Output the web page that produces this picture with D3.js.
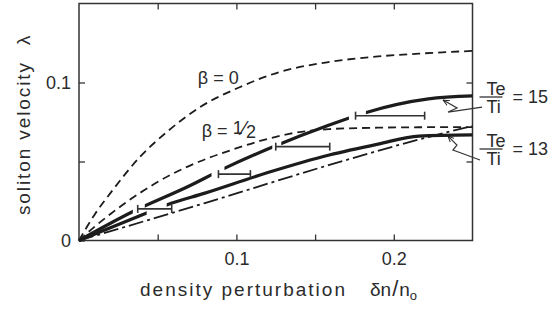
<!DOCTYPE html>
<html>
<head>
<meta charset="utf-8">
<script src="https://cdn.jsdelivr.net/npm/d3@7"></script>
<style>
  body { margin: 0; background: #fff; }
  svg { display: block; }
  text { font-family: "Liberation Sans", Arial, sans-serif; fill: #2b2b2b; }
</style>
</head>
<body>
<svg id="chart" width="557" height="309"></svg>
<script>
// theory curves, beta = 0 and beta = 1/2 (dashed)
const beta0X = [0, 0.01, 0.0215, 0.0388, 0.055, 0.077, 0.102, 0.127, 0.159, 0.19, 0.22, 0.25];
const beta0Y = [0, 0.0165, 0.032, 0.053, 0.068, 0.0845, 0.097, 0.1065, 0.113, 0.1165, 0.1185, 0.120];
const betaHX = [0, 0.01, 0.02, 0.0386, 0.06, 0.0766, 0.0975, 0.115, 0.1335, 0.159, 0.19, 0.22, 0.25];
const betaHY = [0, 0.0088, 0.0168, 0.030, 0.0425, 0.050, 0.0575, 0.063, 0.0675, 0.0705, 0.0714, 0.0717, 0.0718];
// Te/Ti = 15 and 13 (thick solid)
const te15X = [0, 0.034, 0.07, 0.092, 0.123, 0.159, 0.182, 0.222, 0.25];
const te15Y = [0, 0.0182, 0.0345, 0.0455, 0.0592, 0.0731, 0.0809, 0.0896, 0.0915];
const te13X = [0, 0.043, 0.0557, 0.08, 0.12, 0.159, 0.19, 0.216, 0.25];
const te13Y = [0, 0.0174, 0.0225, 0.030, 0.043, 0.0541, 0.061, 0.0661, 0.0668];
// dash-dot line
const ddX = [0, 0.08, 0.159, 0.222, 0.25];
const ddY = [0, 0.0237, 0.0478, 0.0655, 0.0725];
// where the thick curves are broken
const gaps15 = [[0.0342, 0.0418], [0.0842, 0.0924], [0.1228, 0.1285], [0.1715, 0.1823]];
const gaps13 = [[0.043, 0.0557]];
// measured points, horizontal bars
const barY = [0.020, 0.042, 0.0594, 0.079];
const barX0 = [0.0373, 0.0886, 0.125, 0.1757];
const barX1 = [0.0589, 0.1089, 0.1593, 0.2196];
// ticks
const xTicks = [0.05, 0.1, 0.15, 0.2];
const xLabels = ["", "0.1", "", "0.2"];
const yTicks = [0, 0.05, 0.1];
const yLabels = ["0", "", "0.1"];
const ratios = ["15", "13"];

const svg = d3.select("#chart");
const x = d3.scaleLinear().domain([0, 0.25]).range([79, 472.5]);
const y = d3.scaleLinear().domain([0, 0.15]).range([240.5, 3.5]);
const ink = "#1c1c1c";

const zip = (xs, ys) => xs.map((v, i) => [v, ys[i]]);
const line = d3.line().x(d => x(d[0])).y(d => y(d[1])).curve(d3.curveMonotoneX);

// clip paths made from the visible stretches between gaps
function visible(gaps) {
  let out = [], start = 0;
  gaps.forEach(g => { out.push([start, g[0]]); start = g[1]; });
  out.push([start, 0.25]);
  return out;
}
const defs = svg.append("defs");
[["clip15", gaps15], ["clip13", gaps13]].forEach(([id, gaps]) => {
  defs.append("clipPath").attr("id", id)
    .selectAll("rect").data(visible(gaps)).enter()
    .append("rect")
    .attr("x", d => d[0] === 0 ? x(0) - 4 : x(d[0]))
    .attr("width", d => (d[1] === 0.25 ? x(d[1]) + 4 : x(d[1])) - (d[0] === 0 ? x(0) - 4 : x(d[0])))
    .attr("y", 0).attr("height", 309);
});
defs.append("marker").attr("id", "tip")
  .attr("viewBox", "0 -5 10 10").attr("refX", 9).attr("refY", 0)
  .attr("markerWidth", 7).attr("markerHeight", 7).attr("markerUnits", "userSpaceOnUse")
  .attr("orient", "auto-start-reverse")
  .append("path").attr("d", "M0,-4L9,0L0,4").attr("fill", "none").attr("stroke", ink).attr("stroke-width", 1.3);

// axes with inward ticks on all four sides
const font = g => g.attr("font-family", "Liberation Sans, Arial, sans-serif").attr("font-size", 18)
  .call(s => s.select(".domain").remove())
  .call(s => s.selectAll("line").attr("stroke", "#333").attr("stroke-width", 1.3))
  .call(s => s.selectAll("text").attr("fill", "#2b2b2b"));
svg.append("g").attr("transform", `translate(0,${y(0)})`)
  .call(d3.axisBottom(x).tickValues(xTicks).tickSize(-6).tickPadding(12)
    .tickFormat((d, i) => xLabels[i])).call(font);
svg.append("g").attr("transform", `translate(0,${y(0.15)})`)
  .call(d3.axisTop(x).tickValues(xTicks).tickSize(-6).tickFormat("")).call(font);
svg.append("g").attr("transform", `translate(${x(0)},0)`)
  .call(d3.axisLeft(y).tickValues(yTicks).tickSize(-6).tickPadding(8)
    .tickFormat((d, i) => yLabels[i])).call(font);
svg.append("g").attr("transform", `translate(${x(0.25)},0)`)
  .call(d3.axisRight(y).tickValues(yTicks.slice(1)).tickSize(-6).tickFormat("")).call(font);

svg.append("rect")
  .attr("x", x(0)).attr("y", y(0.15))
  .attr("width", x(0.25) - x(0)).attr("height", y(0) - y(0.15))
  .attr("fill", "none").attr("stroke", "#333").attr("stroke-width", 1.5);

// curves
const curves = [
  { pts: zip(beta0X, beta0Y), w: 1.8, dash: "8,5" },
  { pts: zip(betaHX, betaHY), w: 1.8, dash: "8,5" },
  { pts: zip(ddX, ddY), w: 1.8, dash: "15,4,3,4" },
  { pts: zip(te13X, te13Y), w: 3.2, clip: "clip13" },
  { pts: zip(te15X, te15Y), w: 3.2, clip: "clip15" }
];
svg.append("g").selectAll("path").data(curves).enter()
  .append("path")
  .attr("d", d => line(d.pts))
  .attr("fill", "none")
  .attr("stroke", ink)
  .attr("stroke-width", d => d.w)
  .attr("stroke-dasharray", d => d.dash || null)
  .attr("clip-path", d => d.clip ? `url(#${d.clip})` : null);

// horizontal bars
const bars = svg.append("g").attr("stroke", "#333").attr("stroke-width", 1.6);
barY.forEach((v, i) => {
  bars.append("line").attr("x1", x(barX0[i])).attr("x2", x(barX1[i]))
    .attr("y1", y(v)).attr("y2", y(v));
  [barX0[i], barX1[i]].forEach(e => bars.append("line")
    .attr("x1", x(e)).attr("x2", x(e)).attr("y1", y(v) - 4).attr("y2", y(v) + 4));
});

// beta labels
svg.append("text").attr("x", x(0.0755)).attr("y", y(0.099))
  .attr("font-size", 18).text("β = 0");
const bh = svg.append("text").attr("x", x(0.078)).attr("y", y(0.0655)).attr("font-size", 18);
bh.append("tspan").text("β = ");
bh.append("tspan").attr("dy", -3).text("1");
bh.append("tspan").attr("dy", 1).attr("font-size", 20).text("⁄");
bh.append("tspan").attr("dy", 3).text("2");

// Te/Ti labels with zigzag leaders
const notes = [
  { bar: 97, tip: [0.2313, 0.0889], zig: [[0, 0], [14, 8], [5, 12], [39, 7]] },
  { bar: 149, tip: [0.2344, 0.0661], zig: [[0, 0], [9, 9], [5, 14], [32, 24]] }
];
notes.forEach((n, i) => {
  const g = svg.append("g");
  const x0 = x(0.25);
  g.append("line").attr("x1", x0 + 7).attr("x2", x0 + 30).attr("y1", n.bar).attr("y2", n.bar)
    .attr("stroke", "#333").attr("stroke-width", 1.3);
  g.append("text").attr("x", x0 + 14).attr("y", n.bar - 2.5).attr("font-size", 18).text("Te");
  g.append("text").attr("x", x0 + 14).attr("y", n.bar + 16).attr("font-size", 18).text("Ti");
  g.append("text").attr("x", x0 + 40).attr("y", n.bar + 5.5).attr("font-size", 18).text("= " + ratios[i]);
  const tx = x(n.tip[0]), ty = y(n.tip[1]);
  g.append("path")
    .attr("d", d3.line()(n.zig.map(p => [tx + p[0], ty + p[1]])))
    .attr("fill", "none").attr("stroke", "#333").attr("stroke-width", 1.2)
    .attr("marker-start", "url(#tip)");
});

// axis titles
const xt = svg.append("text").attr("x", 140).attr("y", 296).attr("font-size", 19);
xt.append("tspan").attr("textLength", 205).attr("lengthAdjust", "spacing").text("density perturbation");
xt.append("tspan").attr("x", 370).text("δn");
xt.append("tspan").attr("font-size", 22).attr("dx", 1).text("/");
xt.append("tspan").attr("dx", 1).text("n");
xt.append("tspan").attr("dy", 4).attr("font-size", 13).text("o");

const yt = svg.append("text").attr("transform", "translate(30,215) rotate(-90)").attr("font-size", 19);
yt.append("tspan").attr("textLength", 152).attr("lengthAdjust", "spacing").text("soliton velocity");
yt.append("tspan").attr("x", 170).text("λ");
</script>
</body>
</html>
